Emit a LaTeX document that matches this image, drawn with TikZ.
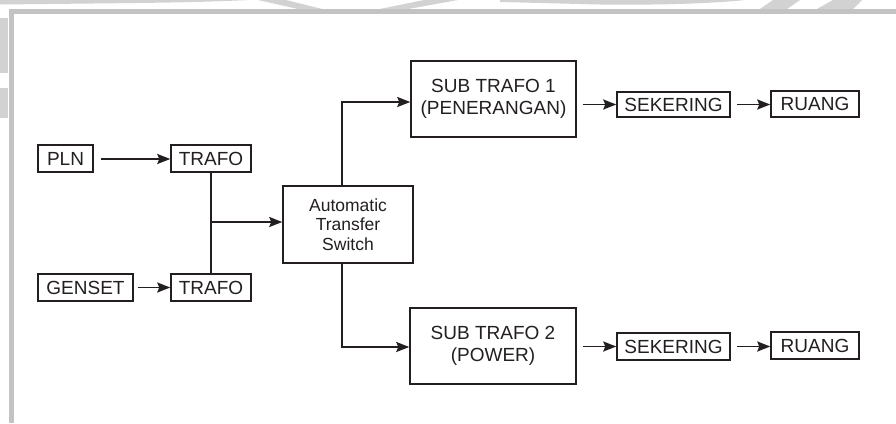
\documentclass[tikz,border=0pt]{standalone}
\usepackage{fontspec}
\setmainfont{Liberation Sans}
\usetikzlibrary{arrows.meta}
\definecolor{ink}{HTML}{231F20}
\definecolor{framegray}{HTML}{C3C3C3}
\definecolor{markgray}{HTML}{D2D2D2}
\begin{document}
\begin{tikzpicture}[x=1pt,y=-1pt,
  box/.style={draw=ink,line width=1.5pt,inner sep=0pt,text=ink,
    font=\fontsize{19}{22}\selectfont,align=center},
  flow/.style={draw=ink,line width=1.8pt,
    -{Stealth[length=13pt,width=10pt,inset=2pt]}},
  trunk/.style={draw=ink,line width=2.6pt}]
\useasboundingbox (0,0) rectangle (896,423);
\fill[white] (0,0) rectangle (896,423);

% faint background mark along the top and left edges
\begin{scope}[markgray]
  \fill (0,0) -- (250,0) .. controls (190,2.5) .. (0,4.5) -- cycle;
  \fill (258,0) -- (286,0) -- (322,9) -- (298,9) -- cycle;
  \fill (380,9) -- (408,9) -- (458,0) -- (424,0) -- cycle;
  \fill (500,0) -- (745,0) .. controls (700,5) and (620,5) .. (600,4.5)
        .. controls (560,3.5) .. (500,2) -- cycle;
  \fill (760,9) -- (787,9) -- (800,0) -- (773,0) -- cycle;
  \fill (817,9) -- (853,9) -- (862,0) -- (833,0) -- cycle;
  \fill (0,18) rectangle (8,73);
  \fill (0,88) rectangle (8,118);
\end{scope}

% page frame
\draw[framegray,line width=4.5pt] (896,11.5) -- (11.5,11.5) -- (11.5,423);

% source side
\node[box,minimum width=55pt,minimum height=27pt]  (pln)    at (65.5,158.5) {PLN};
\node[box,minimum width=80pt,minimum height=27pt]  (trafoA) at (211,158.5)  {TRAFO};
\node[box,minimum width=95pt,minimum height=27pt]  (genset) at (85.5,287.5) {GENSET};
\node[box,minimum width=80pt,minimum height=27pt]  (trafoB) at (211,287.5)  {TRAFO};

% switch
\node[box,minimum width=130pt,minimum height=77pt,
      font=\fontsize{17.5}{19.5}\selectfont] (ats) at (348,224.5)
      {Automatic\\Transfer\\Switch};

% distribution branches
\node[box,minimum width=165pt,minimum height=76pt] (subA) at (493.5,99)
      {SUB TRAFO 1\\(PENERANGAN)};
\node[box,minimum width=166pt,minimum height=76pt] (subB) at (493,346)
      {SUB TRAFO 2\\(POWER)};
\node[box,minimum width=113pt,minimum height=25pt] (sekA)   at (673.5,104.5) {SEKERING};
\node[box,minimum width=88pt,minimum height=26pt]  (ruangA) at (815,104)     {RUANG};
\node[box,minimum width=113pt,minimum height=27pt] (sekB)   at (673.5,346.5) {SEKERING};
\node[box,minimum width=88pt,minimum height=27pt]  (ruangB) at (815,345.5)   {RUANG};

% feeds into the transformers
\draw[flow,shorten <=7pt] (pln.east |- 0,159) -- (trafoA.west |- 0,159);
\draw[flow,shorten <=4pt] (genset.east) -- (trafoB.west);

% common bus to the switch
\coordinate (bus) at (211,222);
\draw[trunk] (trafoA.south) -- (trafoB.north);
\draw[flow] (bus) -- (bus -| ats.west);

% switch outputs
\coordinate (upturn) at (342,102);
\coordinate (dnturn) at (342,347);
\draw[flow] (ats.north -| upturn) -- (upturn) -- (upturn -| subA.west);
\draw[flow] (ats.south -| dnturn) -- (dnturn) -- (dnturn -| subB.west);

% chains to the rooms
\draw[flow,shorten <=6pt] (subA.east |- sekA.west) -- (sekA.west);
\draw[flow,shorten <=6pt] (sekA.east) -- (sekA.east -| ruangA.west);
\draw[flow,shorten <=6pt] (subB.east |- sekB.west) -- (sekB.west);
\draw[flow,shorten <=6pt] (sekB.east) -- (sekB.east -| ruangB.west);
\end{tikzpicture}
\end{document}
